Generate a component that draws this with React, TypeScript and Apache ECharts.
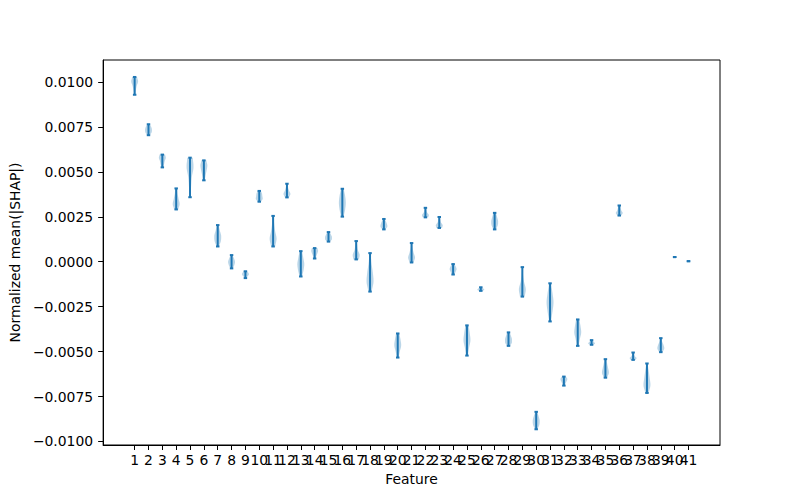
import React, { useEffect, useRef } from "react";
import * as echarts from "echarts";

const features = [1,2,3,4,5,6,7,8,9,10,11,12,13,14,15,16,17,18,19,20,21,22,23,24,25,26,27,28,29,30,31,32,33,34,35,36,37,38,39,40,41];

const mins = [0.00929,0.00704,0.00525,0.00291,0.00359,0.00453,0.00085,-0.00037,-0.00091,0.00334,
  0.00085,0.00358,-0.00082,0.00018,0.00112,0.00251,0.00013,-0.00166,0.0018,-0.00533,
  -0.00004,0.00247,0.00188,-0.00071,-0.00522,-0.00162,0.0018,-0.00468,-0.00194,-0.00932,
  -0.00332,-0.00689,-0.00468,-0.00462,-0.00645,0.00257,-0.00546,-0.0073,-0.00503,0.00026,0.00003];

const maxs = [0.01028,0.00765,0.00596,0.00408,0.00579,0.00564,0.00204,0.00037,-0.00053,0.00394,
  0.00255,0.00434,0.00059,0.00076,0.00165,0.00406,0.00115,0.00048,0.00238,-0.00399,
  0.00104,0.003,0.00249,-0.00013,-0.00354,-0.00142,0.00272,-0.00393,-0.0003,-0.00835,
  -0.0012,-0.00639,-0.00321,-0.00436,-0.00542,0.00313,-0.00505,-0.00566,-0.00425,0.00026,0.00003];

// relative half-width of each violin, from its minimum (first) to its maximum (last)
const profiles = [
  [0.2,0.35,0.6,1,0.7],[0.4,0.9,1,0.8,0.4],[0.3,0.5,0.7,1,0.8],[0.6,1,0.7,0.4,0.3],[0.15,0.3,0.5,1,0.8],
  [0.3,0.5,0.8,1,0.7],[0.4,0.9,1,0.6,0.3],[0.4,0.8,1,0.7,0.3],[0.3,0.6,1,0.9,0.5],[0.5,1,0.9,0.8,0.5],
  [0.6,1,0.6,0.3,0.2],[0.6,1,0.6,0.3,0.2],[0.4,0.8,1,0.7,0.4],[0.3,0.5,0.8,1,0.8],[0.5,1,1,0.7,0.4],
  [0.4,0.8,1,0.8,0.4],[0.8,1,0.5,0.3,0.2],[0.5,1,0.8,0.4,0.2],[0.5,1,0.9,0.6,0.3],[0.3,0.6,1,0.8,0.5],
  [0.6,1,0.6,0.3,0.2],[0.8,1,0.5,0.3,0.2],[0.8,1,0.5,0.3,0.2],[0.4,0.7,1,0.8,0.4],[0.3,0.6,1,0.8,0.5],
  [0.5,1,0.9,0.6,0.3],[0.4,0.9,1,0.7,0.4],[0.5,1,1,0.7,0.4],[0.7,1,0.5,0.2,0.1],[0.4,0.9,1,0.7,0.3],
  [0.3,0.7,1,0.7,0.3],[0.3,0.5,0.8,1,0.6],[0.3,0.6,1,0.8,0.5],[0.5,1,0.8,0.5,0.3],[0.5,1,0.8,0.5,0.3],
  [0.6,1,0.6,0.4,0.3],[0.7,1,0.5,0.3,0.2],[0.5,1,0.8,0.5,0.2],[0.5,1,0.8,0.4,0.2],[1,1,1,1,1],[1,1,1,1,1]
];

const yTicks = [-0.01,-0.0075,-0.005,-0.0025,0,0.0025,0.005,0.0075,0.01];

const BLUE = "#1f77b4";
const FONT = "DejaVu Sans";

function crVal(p: number[], x: number) {
  const n = p.length;
  const pos = Math.max(0, Math.min(n - 1, x));
  const i = Math.min(n - 2, Math.floor(pos));
  const t = pos - i;
  const p0 = p[Math.max(0, i - 1)], p1 = p[i], p2 = p[i + 1], p3 = p[Math.min(n - 1, i + 2)];
  const t2 = t * t, t3 = t2 * t;
  const v = 0.5 * (2 * p1 + (-p0 + p2) * t + (2 * p0 - 5 * p1 + 4 * p2 - p3) * t2 + (-p0 + 3 * p1 - 3 * p2 + p3) * t3);
  return Math.max(0.02, Math.min(1, v));
}

export default function App() {
  const ref = useRef<HTMLDivElement>(null);
  useEffect(() => {
    if (!ref.current) return;
    const chart = echarts.init(ref.current, undefined, { renderer: "svg" });
    const data = features.map((f, i) => [f, mins[i], maxs[i]]);
    const fmt = (v: number) => (v < 0 ? "\u2212" : "") + Math.abs(v).toFixed(4);
    const oddF = features.filter((f) => f % 2 === 1);
    const evenF = features.filter((f) => f % 2 === 0);
    const labelStyle = { margin: 8, fontFamily: FONT, fontSize: 13.9, color: "#000", hideOverlap: false, showMinLabel: true, showMaxLabel: true };
    chart.setOption({
      animation: false,
      backgroundColor: "#fff",
      grid: { left: 100, right: 80, top: 60, bottom: 55, show: true, borderColor: "#000", borderWidth: 1, containLabel: false },
      xAxis: [
        {
          type: "value",
          position: "bottom",
          offset: 0,
          min: -1.275,
          max: 43.275,
          name: "Feature",
          nameLocation: "middle",
          nameGap: 27,
          nameTextStyle: { fontFamily: FONT, fontSize: 13.9, color: "#000" },
          axisLine: { show: true, onZero: false, lineStyle: { color: "#000", width: 1 } },
          axisTick: { show: true, customValues: features, length: 5, lineStyle: { color: "#000", width: 1 } },
          axisLabel: { ...labelStyle, customValues: oddF },
          splitLine: { show: false },
        },
        {
          type: "value",
          position: "bottom",
          offset: 0,
          min: -1.275,
          max: 43.275,
          axisLine: { show: false, onZero: false },
          axisTick: { show: false },
          axisLabel: { ...labelStyle, customValues: evenF },
          splitLine: { show: false },
        },
      ],
      yAxis: {
        type: "value",
        min: -0.010195,
        max: 0.011224,
        name: "Normalized mean(|SHAP|)",
        nameLocation: "middle",
        nameGap: 70,
        nameTextStyle: { fontFamily: FONT, fontSize: 13.9, color: "#000" },
        axisLine: { show: true, onZero: false, lineStyle: { color: "#000", width: 1 } },
        axisTick: { show: true, customValues: yTicks, length: 5, lineStyle: { color: "#000", width: 1 } },
        axisLabel: { customValues: yTicks, margin: 10, fontFamily: FONT, fontSize: 13.9, color: "#000", formatter: fmt, showMinLabel: true, showMaxLabel: true },
        splitLine: { show: false },
      },
      series: [
        {
          type: "custom",
          clip: true,
          xAxisIndex: 0,
          data,
          encode: { x: 0, y: [1, 2] },
          renderItem: (params: any, api: any) => {
            const f = api.value(0), lo = api.value(1), hi = api.value(2);
            const prof = profiles[params.dataIndex];
            const cx = api.coord([f, lo])[0];
            const unit = api.size([1, 0])[0];
            const half = 0.25 * unit;
            const capHalf = 0.125 * unit;
            const yLo = api.coord([f, lo])[1];
            const yHi = api.coord([f, hi])[1];
            const children: any[] = [];
            if (hi > lo) {
              const N = 40;
              const left: number[][] = [], right: number[][] = [];
              for (let k = 0; k <= N; k++) {
                const t = k / N;
                const w = half * crVal(prof, t * (prof.length - 1));
                const y = yLo + (yHi - yLo) * t;
                left.push([cx - w, y]);
                right.push([cx + w, y]);
              }
              const pts = left.concat(right.reverse());
              children.push({ type: "polygon", shape: { points: pts }, style: { fill: "rgba(31,119,180,0.3)", stroke: "none" } });
              children.push({ type: "line", shape: { x1: cx, y1: yLo, x2: cx, y2: yHi }, style: { stroke: BLUE, lineWidth: 2 } });
            }
            children.push({ type: "line", shape: { x1: cx - capHalf, y1: yLo, x2: cx + capHalf, y2: yLo }, style: { stroke: BLUE, lineWidth: 2 } });
            children.push({ type: "line", shape: { x1: cx - capHalf, y1: yHi, x2: cx + capHalf, y2: yHi }, style: { stroke: BLUE, lineWidth: 2 } });
            return { type: "group", children };
          },
        },
      ],
    });
    return () => chart.dispose();
  }, []);
  return <div ref={ref} style={{ position: "absolute", left: 0, top: 0, width: 800, height: 500 }} />;
}
